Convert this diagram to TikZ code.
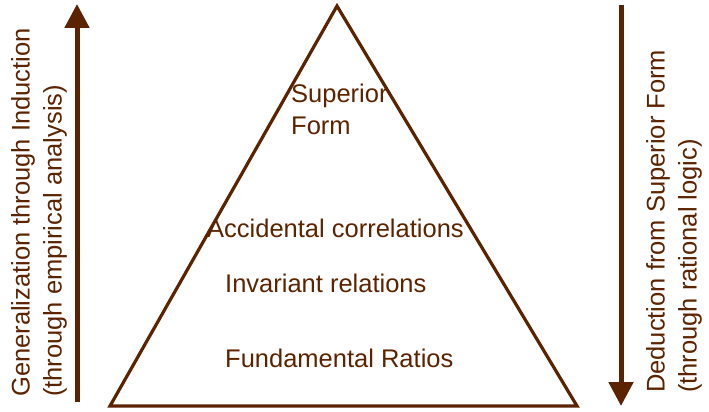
\documentclass[tikz,border=0pt]{standalone}
\usepackage{fontspec}
\setmainfont{Liberation Sans}
\usepackage{xcolor}
\usetikzlibrary{arrows.meta}
\definecolor{Umber}{HTML}{5C2300}

\begin{document}
\begin{tikzpicture}[x=1pt,y=-1pt,
  level/.style={font=\fontsize{25.5}{32}\selectfont,text=Umber,inner sep=0pt,align=left},
  side/.style={font=\fontsize{25.5}{32}\selectfont,text=Umber,inner sep=0pt,align=left,rotate=90,anchor=north west},
  pyramid/.style={draw=Umber,line width=3.2pt,line join=miter},
  arr/.style={-{Triangle[width=24pt,length=24pt]},draw=Umber,line width=5pt}
]
\useasboundingbox (0,0) rectangle (709,412);

% pyramid
\coordinate (apex) at (337,6);
\coordinate (baseL) at (110,406);
\coordinate (baseR) at (577,406);
\draw[pyramid] (apex) -- (baseR) -- (baseL) -- cycle;

\node[level,anchor=north west] (superior) at (291,84) {Superior\\Form};
\node[level,anchor=base west] (accidental) at (207,237) {Accidental correlations};
\node[level,anchor=base west] (invariant) at (225,292) {Invariant relations};
\node[level,anchor=base west] (fundamental) at (225,367) {Fundamental Ratios};

% side arrows
\coordinate (upFrom) at (77,402);
\coordinate (upTo) at (77,4);
\coordinate (downFrom) at (621,5);
\coordinate (downTo) at (621,406);
\draw[arr] (upFrom) -- (upTo);
\draw[arr] (downFrom) -- (downTo);

\node[side] (induction) at (11,397) {Generalization through Induction\\(through empirical analysis)};
\node[side] (deduction) at (646,393) {Deduction from Superior Form\\(through rational logic)};
\end{tikzpicture}
\end{document}
